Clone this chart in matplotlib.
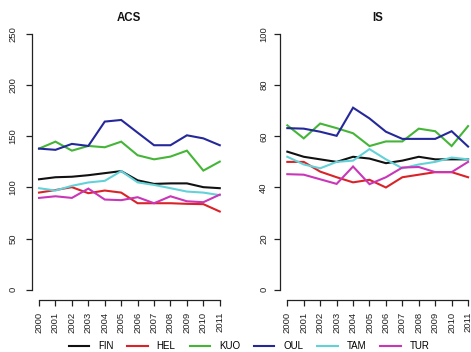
import matplotlib
matplotlib.use("Agg")
import matplotlib.pyplot as plt

plt.rcParams['font.family'] = ['Liberation Sans', 'DejaVu Sans']

years = list(range(2000, 2012))
series_names = ["FIN", "HEL", "KUO", "OUL", "TAM", "TUR"]
colors = ["#111111", "#DA2328", "#45B538", "#25289A", "#62D2D8", "#C936B8"]

acs_fin = [108, 110, 110.5, 112, 114, 116, 107, 103.5, 104, 104, 100.3, 99.3]
acs_hel = [95, 97.5, 100.3, 94.4, 97, 95, 84.6, 84.6, 84.6, 84, 83.7, 76.5]
acs_kuo = [138, 144.8, 136, 140.6, 139.3, 144.8, 131.5, 127.5, 130.2, 136, 116.5, 125.3]
acs_oul = [138, 136.8, 142.6, 140.6, 164.4, 166, 153.6, 141.3, 141.3, 151, 148, 141.3]
acs_tam = [99.3, 97, 101.6, 104.9, 106.5, 116, 105, 102.5, 99.3, 96, 95, 92.5]
acs_tur = [89.8, 91.4, 89.8, 98.9, 88.2, 87.6, 90.5, 84.6, 91.4, 86.5, 85.6, 93]

is_fin = [54, 52, 51, 50, 52, 51.3, 49.5, 50.5, 52, 51, 51, 51]
is_hel = [50, 50, 46.2, 44, 42, 43, 40, 44, 45, 46, 46, 44]
is_kuo = [64.3, 59.2, 65, 63.2, 61.2, 56.2, 58, 58, 63, 62, 56.2, 64]
is_oul = [63.2, 63, 61.8, 60.2, 71.2, 67, 61.8, 59, 59, 59, 62, 56]
is_tam = [52, 49, 47.5, 50, 50.5, 55, 51, 47.5, 49, 50, 51.7, 51]
is_tur = [45.2, 45, 43.2, 41.4, 48.2, 41.3, 44, 47.8, 48, 46, 46, 50]

acs = [acs_fin, acs_hel, acs_kuo, acs_oul, acs_tam, acs_tur]
iss = [is_fin, is_hel, is_kuo, is_oul, is_tam, is_tur]

W, H = 471, 352
fig = plt.figure(figsize=(W / 100, H / 100), dpi=100)

def make_axes(x0, title, data, ylim, yticks, ypad):
    ax = fig.add_axes([x0 / W, 52 / H, 195.2 / W, 276.2 / H])
    lines = []
    for vals, c, n in zip(data, colors, series_names):
        ln, = ax.plot(years, vals, color=c, lw=1.5, label=n, solid_joinstyle='miter')
        lines.append(ln)
    ax.set_xlim(1999.56, 2011.44)
    ax.set_ylim(*ylim)
    ax.set_xticks(years)
    ax.set_xticklabels([str(y) for y in years], rotation=90, fontsize=6.8)
    ax.set_yticks(yticks)
    ax.set_yticklabels([str(t) for t in yticks], rotation=90, va='center', fontsize=6.8)
    for s in ['top', 'right']:
        ax.spines[s].set_visible(False)
    ax.spines['left'].set_bounds(yticks[0], yticks[-1])
    ax.spines['bottom'].set_bounds(years[0], years[-1])
    for s in ['left', 'bottom']:
        ax.spines[s].set_linewidth(0.9)
        ax.spines[s].set_color('#222222')
    ax.tick_params(axis='both', direction='out', length=4, width=0.9, color='#222222', labelcolor='#222222')
    ax.tick_params(axis='y', pad=ypad)
    ax.tick_params(axis='x', pad=4.5)
    ax.set_title(title, fontsize=8.3, fontweight='bold', pad=1.5, color='#111111')
    return ax, lines

ax1, lines = make_axes(31.8, "ACS", acs, (-10, 260), [0, 50, 100, 150, 200, 250], 6.5)
ax2, _ = make_axes(280.1, "IS", iss, (-4, 104), [0, 20, 40, 60, 80, 100], 4.5)

fig.legend(handles=lines, labels=series_names, loc='center', bbox_to_anchor=(249 / W, 1 - 346 / H),
           ncol=6, frameon=False, fontsize=7, handlelength=2.1, handletextpad=0.9,
           columnspacing=1.45, borderpad=0)

fig.savefig("out.png", dpi=100)
